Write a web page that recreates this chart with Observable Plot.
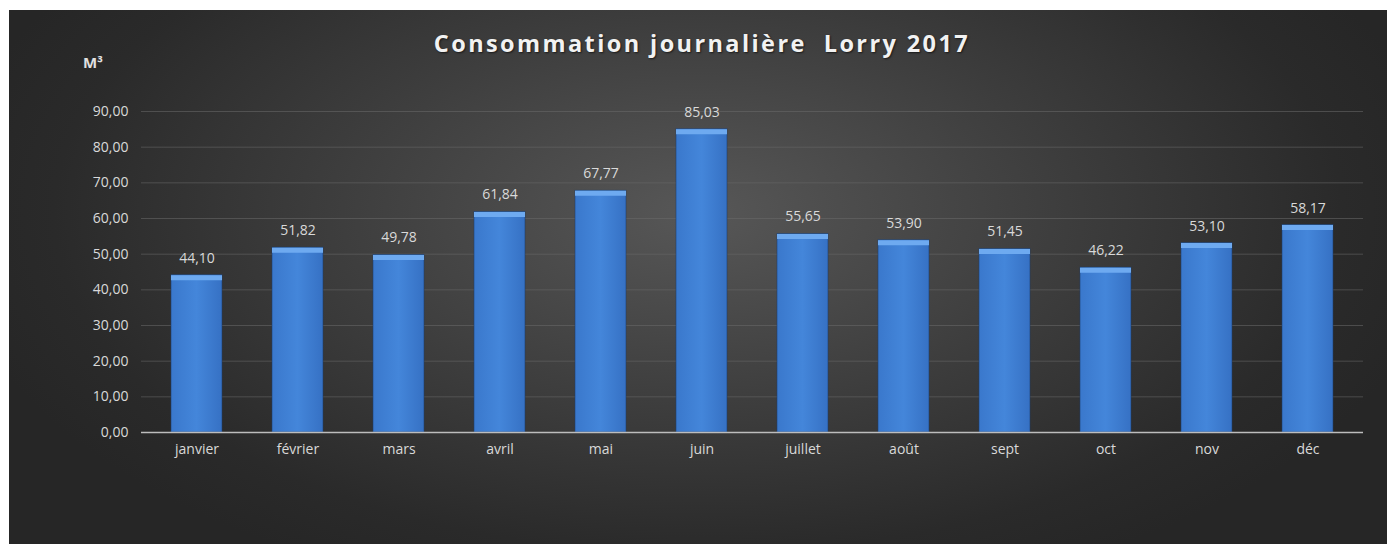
<!DOCTYPE html>
<html>
<head>
<meta charset="utf-8">
<script src="https://cdn.jsdelivr.net/npm/d3@7"></script>
<script src="https://cdn.jsdelivr.net/npm/@observablehq/plot@0.6"></script>
<style>
  html, body { margin: 0; padding: 0; background: #ffffff; }
  #wrap {
    position: absolute; left: 9px; top: 10px; width: 1378px; height: 534px;
    background: radial-gradient(ellipse 55% 75% at 50% 38%, #575757 0%, #3f3f3f 45%, #2a2a2a 85%, #262626 100%);
    overflow: hidden;
    font-family: "Open Sans", sans-serif;
  }
  #title {
    position: absolute; left: 4px; top: 8px; width: 100%;
    height: 50px; line-height: 50px; text-align: center;
    color: #f2f2f2; font-weight: bold; font-size: 23.5px; letter-spacing: 2.4px;
    text-shadow: 1px 1px 2px rgba(0,0,0,0.6);
    white-space: pre;
  }
  #unit {
    position: absolute; left: 74px; top: 42px; color: #e0e0e0;
    font-weight: bold; font-size: 15px;
  }
  #chart { position: absolute; left: 0; top: 50px; }
  #chart svg { display: block; }
</style>
</head>
<body>
<div id="wrap">
  <div id="title">Consommation journalière  Lorry 2017</div>
  <div id="unit">M³</div>
  <div id="chart"></div>
</div>
<script>
const months = ["janvier", "février", "mars", "avril", "mai", "juin", "juillet", "août", "sept", "oct", "nov", "déc"];
const values = [44.10, 51.82, 49.78, 61.84, 67.77, 85.03, 55.65, 53.90, 51.45, 46.22, 53.10, 58.17];
const yTicks = [0, 10, 20, 30, 40, 50, 60, 70, 80, 90];

const data = months.map((m, i) => ({month: m, value: values[i]}));
const fr = v => v.toFixed(2).replace(".", ",");

const plot = Plot.plot({
  width: 1378,
  height: 484,
  marginTop: 51,
  marginBottom: 112,
  marginLeft: 132,
  marginRight: 24,
  style: {background: "transparent", fontFamily: "Open Sans, sans-serif", fontSize: "14px", color: "#d9d9d9"},
  x: {domain: months, paddingInner: 0.5, paddingOuter: 0.25},
  y: {domain: [0, 90]},
  marks: [
    Plot.gridY(yTicks, {stroke: "#6a6a6a", strokeOpacity: 0.55, strokeWidth: 1}),
    Plot.axisY(yTicks, {tickSize: 0, tickPadding: 13, tickFormat: fr, label: null, fill: "#d9d9d9"}),
    Plot.axisX({tickSize: 0, tickPadding: 12, label: null, fill: "#d9d9d9"}),
    Plot.barY(data, {x: "month", y: "value", fill: "url(#barGrad)", stroke: "#1e3f6e", strokeWidth: 0.8, strokeOpacity: 0.7}),
    Plot.tickY(data, {x: "month", y: "value", stroke: "#6eaaf0", strokeWidth: 5, dy: 2.5}),
    Plot.ruleY([0], {stroke: "#bdbdbd", strokeWidth: 1.5}),
    Plot.text(data, {x: "month", y: "value", text: d => fr(d.value), dy: -17, fill: "#d9d9d9", fontSize: 14})
  ]
});

const defs = d3.select(plot).insert("defs", ":first-child");
const g = defs.append("linearGradient").attr("id", "barGrad").attr("x1", 0).attr("y1", 0).attr("x2", 1).attr("y2", 0);
g.append("stop").attr("offset", "0%").attr("stop-color", "#3a78cc");
g.append("stop").attr("offset", "50%").attr("stop-color", "#4486da");
g.append("stop").attr("offset", "100%").attr("stop-color", "#3671c4");

document.getElementById("chart").appendChild(plot);
</script>
</body>
</html>
